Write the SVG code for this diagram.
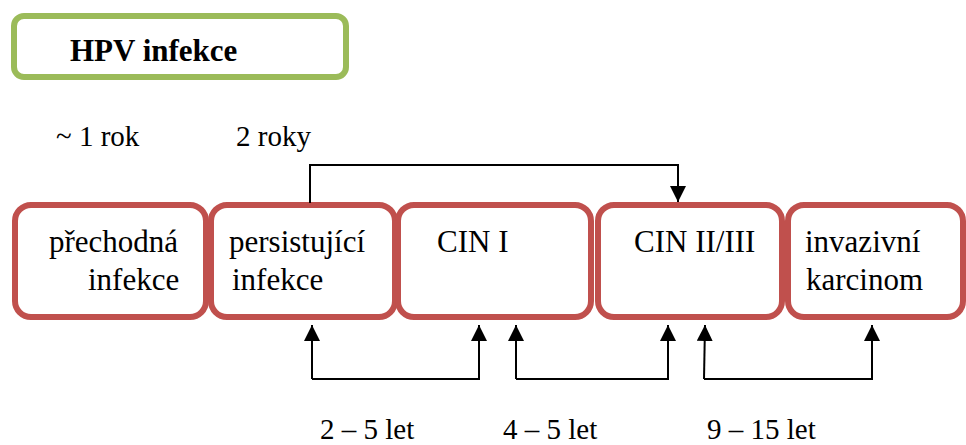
<svg xmlns="http://www.w3.org/2000/svg" width="966" height="445" viewBox="0 0 966 445">
  <style>
    .stage rect { fill: #ffffff; stroke: #C0504D; stroke-width: 6; }
    .title rect { fill: #ffffff; stroke: #9BBB59; stroke-width: 6; }
    text { fill: #000000; font-family: "Liberation Serif", "Times New Roman", serif; }
    .box-label { font-size: 31px; }
    .time { font-size: 29px; }
    .conn { fill: none; stroke: #000000; stroke-width: 2; }
  </style>
  <defs>
    <marker id="arrow" markerUnits="userSpaceOnUse" markerWidth="16" markerHeight="16" viewBox="0 0 16 16" refX="16" refY="8" orient="auto">
      <path d="M0,0 L16,8 L0,16 Z" fill="#000000"/>
    </marker>
  </defs>

  <g id="hpv-infekce" class="title">
    <rect x="14" y="16" width="332" height="61" rx="10" ry="10"/>
    <text x="70" y="61" font-size="31" font-weight="bold">HPV infekce</text>
  </g>

  <g id="prechodna-infekce" class="stage">
    <rect x="15" y="205" width="191" height="112" rx="16" ry="16"/>
    <text class="box-label" x="49" y="252">přechodná</text>
    <text class="box-label" x="88" y="290">infekce</text>
  </g>

  <g id="persistujici-infekce" class="stage">
    <rect x="211" y="205" width="184" height="112" rx="16" ry="16"/>
    <text class="box-label" x="229" y="252">persistující</text>
    <text class="box-label" x="232" y="290">infekce</text>
  </g>

  <g id="cin-1" class="stage">
    <rect x="398" y="205" width="193" height="112" rx="16" ry="16"/>
    <text class="box-label" x="437" y="252">CIN I</text>
  </g>

  <g id="cin-2-3" class="stage">
    <rect x="598" y="205" width="184" height="112" rx="16" ry="16"/>
    <text class="box-label" x="634" y="252">CIN II/III</text>
  </g>

  <g id="invazivni-karcinom" class="stage">
    <rect x="788" y="205" width="175" height="112" rx="16" ry="16"/>
    <text class="box-label" x="805" y="252">invazivní</text>
    <text class="box-label" x="806" y="290">karcinom</text>
  </g>

  <g id="durations">
    <text class="time" x="56" y="146">~ 1 rok</text>
    <text class="time" x="236" y="146">2 roky</text>
    <text class="time" x="320" y="439">2 – 5 let</text>
    <text class="time" x="503" y="439">4 – 5 let</text>
    <text class="time" x="707" y="439">9 – 15 let</text>
  </g>

  <g id="connectors">
    <!-- persistent infection may skip straight to CIN II/III -->
    <path class="conn" d="M310,203 V165 H678 V202" marker-end="url(#arrow)"/>
    <!-- 2 – 5 let -->
    <path class="conn" d="M312,379 V325" marker-end="url(#arrow)"/>
    <path class="conn" d="M312,379 H479 V325" marker-end="url(#arrow)"/>
    <!-- 4 – 5 let -->
    <path class="conn" d="M516,379 V325" marker-end="url(#arrow)"/>
    <path class="conn" d="M516,379 H668 V325" marker-end="url(#arrow)"/>
    <!-- 9 – 15 let -->
    <path class="conn" d="M704,379 L705,325" marker-end="url(#arrow)"/>
    <path class="conn" d="M704,379 H872 V325" marker-end="url(#arrow)"/>
  </g>
</svg>
